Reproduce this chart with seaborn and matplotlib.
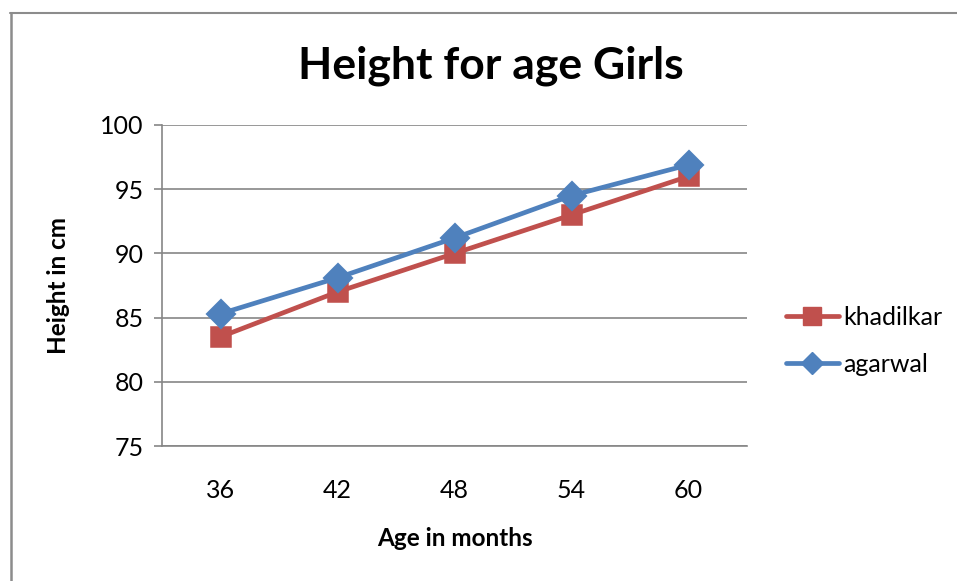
import matplotlib
matplotlib.use("Agg")
import matplotlib.pyplot as plt
import seaborn as sns
import pandas as pd
from matplotlib.lines import Line2D

ages = ["36", "42", "48", "54", "60"]
khadilkar = [83.5, 87.0, 90.0, 93.0, 96.0]
agarwal = [85.3, 88.1, 91.2, 94.5, 96.9]
series_names = ["khadilkar", "agarwal"]
y_ticks = [75, 80, 85, 90, 95, 100]

df = pd.DataFrame({
    "age": ages * 2,
    "height": khadilkar + agarwal,
    "series": [series_names[0]] * len(ages) + [series_names[1]] * len(ages),
})

sns.set_theme(style="white")
plt.rcParams["font.family"] = ["Lato", "DejaVu Sans"]
plt.rcParams["text.color"] = "black"
plt.rcParams["axes.labelcolor"] = "black"

RED = "#C0504D"
BLUE = "#4F81BD"
GRID = "#868686"

fig = plt.figure(figsize=(9.57, 5.81), dpi=100)
ax = fig.add_axes([162 / 957, 1 - 446 / 581, (747 - 162) / 957, (446 - 125) / 581])

sns.pointplot(data=df, x="age", y="height", hue="series", order=ages,
              hue_order=series_names, palette=[RED, BLUE], markers=["s", "D"],
              linestyles=["-", "-"], errorbar=None, ax=ax, legend=False,
              lw=3.4, markersize=13)
for ln in ax.lines:
    if ln.get_color() in (BLUE, BLUE.lower()):
        ln.set_zorder(4)

ax.set_xlim(-0.5, 4.5)
ax.set_ylim(75, 100)
ax.set_yticks(y_ticks)
ax.set_yticklabels([str(v) for v in y_ticks])
ax.yaxis.grid(True, color=GRID, linewidth=1.2)
ax.xaxis.grid(False)
ax.set_axisbelow(True)
for s in ["top", "right"]:
    ax.spines[s].set_visible(False)
for s in ["left", "bottom"]:
    ax.spines[s].set_color(GRID)
    ax.spines[s].set_linewidth(1.2)
ax.tick_params(axis="y", which="both", left=True, length=6, width=1.2,
               color=GRID, labelsize=18, pad=7, labelcolor="black")
ax.tick_params(axis="x", bottom=False, labelsize=18, pad=18, labelcolor="black")

ax.set_xlabel("Age in months", fontsize=17.5, fontweight="bold", labelpad=18)
ax.set_ylabel("Height in cm", fontsize=17.5, fontweight="bold", labelpad=22)

fig.text(491 / 957, 1 - 66 / 581, "Height for age Girls", ha="center", va="center",
         fontsize=32, fontweight="bold", color="black")

handles = [
    Line2D([], [], color=RED, lw=3.4, marker="s", markersize=13),
    Line2D([], [], color=BLUE, lw=3.4, marker="D", markersize=11),
]
fig.legend(handles, series_names, loc="center left",
           bbox_to_anchor=(778 / 957, 1 - 341 / 581), frameon=False,
           fontsize=18, handlelength=2.15, handletextpad=0.15, labelspacing=0.95,
           borderaxespad=0, borderpad=0.3)

fig.add_artist(Line2D([11 / 957, 11 / 957], [0, 1 - 13 / 581], transform=fig.transFigure,
                      color="#8c8c8c", lw=1.8))
fig.add_artist(Line2D([10 / 957, 1], [1 - 13 / 581, 1 - 13 / 581], transform=fig.transFigure,
                      color="#8c8c8c", lw=1.5))

fig.savefig("out.png", dpi=100)
